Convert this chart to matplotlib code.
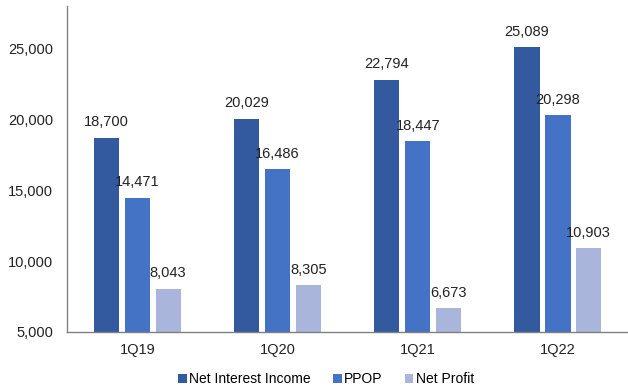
import numpy as np
import matplotlib.pyplot as plt
from matplotlib.ticker import FuncFormatter

plt.rcParams['font.family'] = ['Liberation Sans', 'DejaVu Sans']

quarters = ['1Q19', '1Q20', '1Q21', '1Q22']
net_interest_income = [18700, 20029, 22794, 25089]
ppop = [14471, 16486, 18447, 20298]
net_profit = [8043, 8305, 6673, 10903]

series = [
    ('Net Interest Income', net_interest_income, '#335A9E'),
    ('PPOP', ppop, '#4472C4'),
    ('Net Profit', net_profit, '#A9B5DA'),
]

fig = plt.figure(figsize=(6.28, 3.9), dpi=100)
ax = fig.add_axes([0.107, 0.149, 0.893, 0.836])

x = np.arange(len(quarters))
width = 0.18
step = 0.22
for i, (name, vals, color) in enumerate(series):
    pos = x + (i - 1) * step
    ax.bar(pos, np.array(vals) - 5000, width, bottom=5000, color=color, label=name)
    for xp, v in zip(pos, vals):
        ax.text(xp, v + 600, f'{v:,}', ha='center', va='bottom', fontsize=10.5, color='#222222')

ax.set_xlim(-0.5, len(quarters) - 0.5)
ax.set_ylim(5000, 28000)
ax.set_yticks([5000, 10000, 15000, 20000, 25000])
ax.yaxis.set_major_formatter(FuncFormatter(lambda v, p: f'{int(v):,}'))
ax.set_xticks(x)
ax.set_xticklabels(quarters)
ax.tick_params(axis='both', length=0, labelsize=10.5, colors='#222222')
ax.tick_params(axis='x', pad=8)
ax.tick_params(axis='y', pad=10)
for s in ['top', 'right']:
    ax.spines[s].set_visible(False)
for s in ['left', 'bottom']:
    ax.spines[s].set_color('#808080')
    ax.spines[s].set_linewidth(1)

ax.legend(loc='upper center', bbox_to_anchor=(0.462, -0.085), ncol=3, frameon=False,
          fontsize=10, handlelength=0.6, handleheight=0.6, handletextpad=0.2, columnspacing=1.6)

fig.savefig('out.png', dpi=100)
